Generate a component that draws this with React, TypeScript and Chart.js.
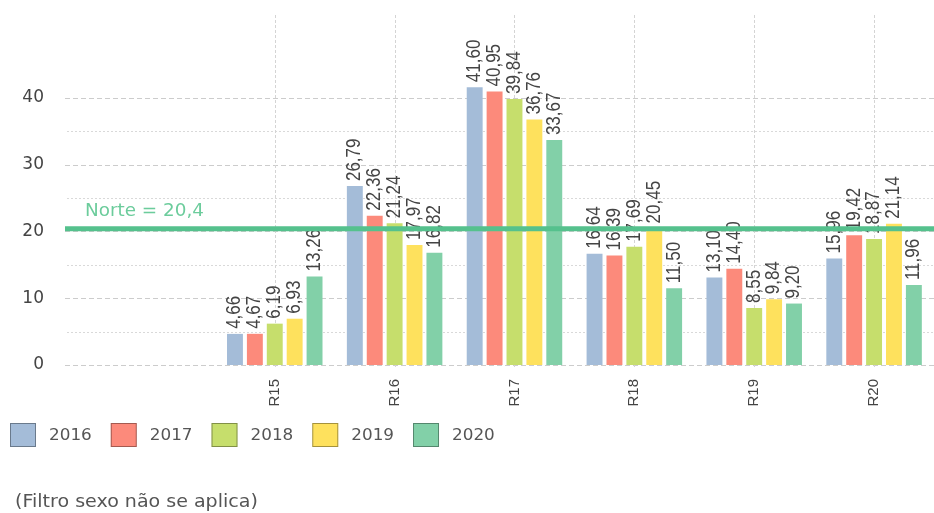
import { useEffect, useRef } from "react";
import { Chart, registerables } from "chart.js";

Chart.register(...registerables);

// Regions on the x axis and the years shown as series
const regions = ["R15", "R16", "R17", "R18", "R19", "R20"];
const years = ["2016", "2017", "2018", "2019", "2020"];

const values2016 = [4.66, 26.79, 41.6, 16.64, 13.1, 15.96];
const values2017 = [4.67, 22.36, 40.95, 16.39, 14.4, 19.42];
const values2018 = [6.19, 21.24, 39.84, 17.69, 8.55, 18.87];
const values2019 = [6.93, 17.97, 36.76, 20.45, 9.84, 21.14];
const values2020 = [13.26, 16.82, 33.67, 11.5, 9.2, 11.96];

const yMajorTicks = [0, 10, 20, 30, 40];
const yMinorTicks = [5, 15, 25, 35];

const norteValue = 20.4;
const norteLabel = "Norte = 20,4";
const footnote = "(Filtro sexo não se aplica)";

const seriesValues = [values2016, values2017, values2018, values2019, values2020];
const seriesColors = ["#a4bcd8", "#fc8a7b", "#c6de6c", "#fee15d", "#82d0a8"];

const TEXT = "#444444";
const SANS = "'DejaVu Sans', Verdana, sans-serif";
const ARIAL = "'Liberation Sans', Arial, sans-serif";

const fmt = (v: number) => v.toFixed(2).replace(".", ",");

// Text drawn slightly widened on screen x
function wideText(ctx: CanvasRenderingContext2D, text: string, x: number, y: number, sx: number) {
  ctx.save();
  ctx.translate(x, y);
  ctx.scale(sx, 1);
  ctx.fillText(text, 0, 0);
  ctx.restore();
}

// Major dashed and minor dotted grid, plus vertical guides at each region
const gridPlugin = {
  id: "customGrid",
  beforeDatasetsDraw(chart: any) {
    const { ctx, chartArea } = chart;
    const x = chart.scales.x;
    const y = chart.scales.y;
    ctx.save();
    ctx.lineWidth = 1;
    ctx.strokeStyle = "#d9d9d9";
    ctx.setLineDash([2, 2]);
    for (const t of yMinorTicks) {
      const py = Math.round(y.getPixelForValue(t)) + 0.5;
      ctx.beginPath();
      ctx.moveTo(chartArea.left + 2, py);
      ctx.lineTo(chartArea.right, py);
      ctx.stroke();
    }
    ctx.strokeStyle = "#cccccc";
    ctx.setLineDash([5, 3]);
    for (const t of yMajorTicks) {
      const py = Math.round(y.getPixelForValue(t)) + 0.5;
      ctx.beginPath();
      ctx.moveTo(chartArea.left, py);
      ctx.lineTo(chartArea.right, py);
      ctx.stroke();
    }
    ctx.strokeStyle = "#d4d4d4";
    ctx.setLineDash([3, 2]);
    regions.forEach((_, i) => {
      const px = Math.round(x.getPixelForValue(i)) + 0.5;
      ctx.beginPath();
      ctx.moveTo(px, chartArea.top);
      ctx.lineTo(px, chartArea.bottom + 2);
      ctx.stroke();
    });
    ctx.restore();
  },
};

// Vertical value labels above each bar
const valueLabelPlugin = {
  id: "valueLabels",
  afterDatasetsDraw(chart: any) {
    const { ctx } = chart;
    ctx.save();
    ctx.font = `17px ${ARIAL}`;
    ctx.fillStyle = TEXT;
    ctx.textAlign = "left";
    ctx.textBaseline = "middle";
    chart.data.datasets.forEach((ds: any, di: number) => {
      const meta = chart.getDatasetMeta(di);
      meta.data.forEach((bar: any, i: number) => {
        ctx.save();
        ctx.translate(bar.x, bar.y - 5);
        ctx.scale(1.15, 1);
        ctx.rotate(-Math.PI / 2);
        ctx.fillText(fmt(ds.data[i].y), 0, 0);
        ctx.restore();
      });
    });
    ctx.restore();
  },
};

// Reference line for the Norte average, legend and footnote
const overlayPlugin = {
  id: "overlay",
  afterDraw(chart: any) {
    const { ctx, chartArea } = chart;
    const y = chart.scales.y;
    const py = y.getPixelForValue(norteValue);
    ctx.save();
    ctx.strokeStyle = "#55c18d";
    ctx.lineWidth = 5;
    ctx.beginPath();
    ctx.moveTo(chartArea.left, py);
    ctx.lineTo(chartArea.right, py);
    ctx.stroke();

    ctx.font = `17px ${SANS}`;
    ctx.fillStyle = "#6ccc9c";
    ctx.textAlign = "left";
    ctx.textBaseline = "middle";
    wideText(ctx, norteLabel, 85, py - 17, 1.08);

    // legend
    let lx = 10;
    const ly = 423;
    const sx = 1.05;
    ctx.font = `16px ${SANS}`;
    chart.data.datasets.forEach((ds: any) => {
      ctx.fillStyle = ds.backgroundColor;
      ctx.fillRect(lx, ly, 26, 24);
      ctx.strokeStyle = "rgba(0,0,0,0.35)";
      ctx.lineWidth = 1;
      ctx.strokeRect(lx + 0.5, ly + 0.5, 25, 23);
      ctx.fillStyle = "#555555";
      wideText(ctx, ds.label, lx + 39, ly + 13, sx);
      lx += 39 + ctx.measureText(ds.label).width * sx + 19;
    });

    ctx.font = `17px ${SANS}`;
    ctx.fillStyle = "#555555";
    wideText(ctx, footnote, 15, 503, 1.12);
    ctx.restore();
  },
};

export default function App() {
  const canvasRef = useRef<HTMLCanvasElement | null>(null);

  useEffect(() => {
    const canvas = canvasRef.current;
    if (!canvas) return;
    const chart = new Chart(canvas, {
      type: "bar",
      data: {
        datasets: years.map((yr, si) => ({
          label: yr,
          data: seriesValues[si].map((v, i) => ({ x: i, y: v })),
          backgroundColor: seriesColors[si],
          borderWidth: 0,
          categoryPercentage: 0.83,
          barPercentage: 0.8,
        })),
      },
      options: {
        animation: false,
        responsive: false,
        maintainAspectRatio: false,
        layout: { padding: { top: 15, bottom: 103, left: 0, right: 0 } },
        plugins: {
          legend: { display: false },
          tooltip: { enabled: false },
        },
        scales: {
          x: {
            type: "linear",
            min: -1.75,
            max: 5.5,
            offset: false,
            grid: { display: false },
            border: { display: false },
            afterBuildTicks: (scale: any) => {
              scale.ticks = regions.map((_, i) => ({ value: i }));
            },
            afterFit: (scale: any) => {
              scale.height = 45;
              scale.paddingLeft = 0;
              scale.paddingRight = 0;
            },
            ticks: {
              autoSkip: false,
              minRotation: 90,
              maxRotation: 90,
              padding: 6,
              color: TEXT,
              font: { family: ARIAL, size: 15 },
              callback: (v: any) => regions[v] ?? "",
            },
          },
          y: {
            min: 0,
            max: 52.4,
            grid: { display: false, drawTicks: true, tickLength: 21 },
            border: { display: false },
            afterBuildTicks: (scale: any) => {
              scale.ticks = yMajorTicks.map((v) => ({ value: v }));
            },
            afterFit: (scale: any) => {
              scale.width = 65;
              scale.paddingTop = 0;
              scale.paddingBottom = 0;
            },
            ticks: {
              padding: 0,
              color: TEXT,
              font: { family: SANS, size: 17 },
            },
          },
        },
      },
      plugins: [gridPlugin, valueLabelPlugin, overlayPlugin],
    });
    return () => chart.destroy();
  }, []);

  return (
    <div style={{ position: "absolute", left: 0, top: 0, width: 934, height: 513, background: "#fff" }}>
      <canvas ref={canvasRef} width={934} height={513} style={{ display: "block" }} />
    </div>
  );
}
